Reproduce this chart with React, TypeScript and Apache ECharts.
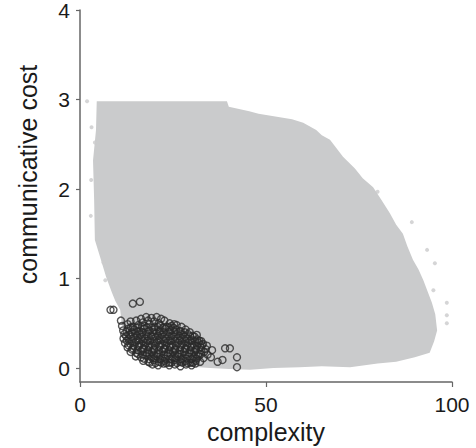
import React, { useEffect, useRef } from "react";
import * as echarts from "echarts";

// Tick values
const xTicks = [0, 50, 100];
const yTicks = [0, 1, 2, 3, 4];

// Boundary of the dense grey cloud of all possible systems [complexity, cost]
const cloudBoundary: [number, number][] = [
  [4.5, 2.98], [39.5, 2.98], [40, 2.92], [45.5, 2.87], [48, 2.84], [57, 2.78],
  [60, 2.74], [63.5, 2.66], [65, 2.6], [67.2, 2.55], [70.7, 2.36], [73.9, 2.23],
  [76, 2.12], [78.8, 2.02], [81, 1.88], [83.3, 1.73], [85, 1.6], [86.8, 1.5],
  [88, 1.36], [89.5, 1.21], [91, 1.1], [92.3, 0.98], [93.5, 0.85], [94.6, 0.73],
  [95.5, 0.6], [96, 0.42], [95.2, 0.3], [94, 0.17], [90, 0.12], [85, 0.07],
  [80, 0.05], [72.6, 0.01], [65, 0.02], [59, 0.01], [52, 0.0], [45.7, -0.02],
  [40, -0.01], [35, 0.0], [28, 0.02], [22, 0.05], [17, 0.1], [14, 0.2],
  [12, 0.35], [11.2, 0.5], [10.8, 0.65], [9.5, 0.75], [8.6, 0.84], [7, 1.02],
  [5.4, 1.24], [4.0, 1.43], [3.8, 1.88], [3.5, 2.32], [4.3, 2.66], [4.5, 2.98],
];

// Stray grey points along the cloud's edge
const cloudStray: [number, number][] = [
  [1.9, 2.98], [3.1, 2.69], [4.0, 2.52], [3.0, 2.1], [2.9, 1.7], [6.3, 1.18],
  [6.8, 0.98], [80, 1.97], [89.2, 1.63], [93.3, 1.32], [95.4, 1.17], [95, 0.87],
  [98.6, 0.73], [98.6, 0.59], [98.6, 0.5],
];

// Attested languages (open circles) — outer layer
const languagesOuter: [number, number][] = [
  [17.8, 0.57], [19.2, 0.56], [20.6, 0.57], [21.8, 0.55], [16.4, 0.55],
  [13.6, 0.52], [15.1, 0.53], [16.9, 0.51], [18.3, 0.53], [19.9, 0.52], [21.2, 0.5], [22.7, 0.53], [24.1, 0.5], [25.3, 0.49],
  [11.3, 0.47], [12.8, 0.49], [14.2, 0.46], [15.7, 0.48], [17.3, 0.47], [18.7, 0.49], [20.1, 0.46], [21.6, 0.48], [23.2, 0.46], [24.6, 0.47], [26.0, 0.48], [27.3, 0.46],
  [11.6, 0.42], [13.0, 0.44], [14.5, 0.43], [15.9, 0.41], [17.2, 0.44], [18.6, 0.42], [20.0, 0.43], [21.5, 0.41], [22.9, 0.44], [24.3, 0.42], [25.8, 0.43], [27.1, 0.41], [28.4, 0.43], [29.5, 0.4],
  [11.9, 0.38], [13.3, 0.37], [14.8, 0.39], [16.2, 0.37], [17.7, 0.38], [19.1, 0.36], [20.5, 0.39], [21.9, 0.37], [23.3, 0.38], [24.7, 0.36], [26.1, 0.38], [27.6, 0.37], [29.0, 0.38], [30.3, 0.36], [31.4, 0.37],
  [11.7, 0.33], [13.1, 0.32], [14.5, 0.34], [16.0, 0.32], [17.4, 0.33], [18.9, 0.31], [20.3, 0.34], [21.7, 0.32], [23.1, 0.33], [24.6, 0.31], [26.0, 0.33], [27.4, 0.32], [28.8, 0.33], [30.1, 0.31], [31.5, 0.32], [32.6, 0.3],
  [12.1, 0.28], [13.5, 0.27], [15.0, 0.29], [16.4, 0.27], [17.8, 0.28], [19.3, 0.26], [20.7, 0.29], [22.1, 0.27], [23.5, 0.28], [24.9, 0.26], [26.4, 0.28], [27.8, 0.27], [29.2, 0.28], [30.6, 0.26], [31.9, 0.28], [33.1, 0.27], [34.1, 0.25],
  [12.8, 0.23], [14.2, 0.22], [15.7, 0.24], [17.1, 0.22], [18.5, 0.23], [19.9, 0.21], [21.4, 0.24], [22.8, 0.22], [24.2, 0.23], [25.6, 0.21], [27.0, 0.23], [28.4, 0.22], [29.8, 0.23], [31.2, 0.21], [32.5, 0.23], [33.8, 0.21],
  [13.6, 0.18], [15.1, 0.17], [16.5, 0.19], [17.9, 0.17], [19.3, 0.18], [20.8, 0.16], [22.2, 0.19], [23.6, 0.17], [25.0, 0.18], [26.4, 0.16], [27.9, 0.18], [29.3, 0.17], [30.7, 0.18], [32.0, 0.16], [33.4, 0.18], [34.3, 0.15],
  [15.0, 0.13], [16.4, 0.12], [17.8, 0.14], [19.2, 0.12], [20.6, 0.13], [22.0, 0.11], [23.5, 0.14], [24.9, 0.12], [26.3, 0.13], [27.7, 0.11], [29.1, 0.13], [30.5, 0.12], [31.9, 0.13], [33.2, 0.11],
  [17.0, 0.08], [18.4, 0.07], [19.8, 0.09], [21.2, 0.07], [22.6, 0.08], [24.0, 0.06], [25.5, 0.09], [26.9, 0.07], [28.3, 0.08], [29.7, 0.06], [31.1, 0.08], [32.3, 0.07],
  [19.5, 0.04], [21.0, 0.03], [22.5, 0.05], [24.0, 0.03], [25.5, 0.04], [27.0, 0.02], [28.5, 0.04], [30.0, 0.03], [31.0, 0.05],
  [8.2, 0.65], [9.0, 0.65], [14.2, 0.72], [16.1, 0.74], [11.0, 0.53], [39.0, 0.22], [40.3, 0.22],
  [37.0, 0.07], [38.3, 0.09], [42.2, 0.12], [42.2, 0.01], [35.5, 0.2], [35.2, 0.12],
];

// Attested languages — dense core
const languagesCore: [number, number][] = [
  [13.7, 0.455], [15.2, 0.45], [16.6, 0.46], [18.0, 0.455], [19.4, 0.45], [20.9, 0.46], [22.3, 0.45], [23.8, 0.455], [25.1, 0.45],
  [12.5, 0.405], [13.9, 0.40], [15.4, 0.41], [16.8, 0.40], [18.3, 0.405], [19.7, 0.40], [21.2, 0.41], [22.5, 0.40], [24.0, 0.405], [25.4, 0.40], [26.8, 0.41], [28.1, 0.40],
  [12.4, 0.355], [13.8, 0.35], [15.3, 0.36], [16.7, 0.35], [18.2, 0.355], [19.6, 0.35], [21.0, 0.36], [22.5, 0.35], [23.9, 0.355], [25.3, 0.35], [26.8, 0.36], [28.2, 0.35], [29.6, 0.355], [30.8, 0.35],
  [12.6, 0.305], [14.0, 0.30], [15.5, 0.31], [16.9, 0.30], [18.3, 0.305], [19.8, 0.30], [21.2, 0.31], [22.6, 0.30], [24.1, 0.305], [25.5, 0.30], [26.9, 0.31], [28.3, 0.30], [29.7, 0.305], [31.0, 0.30], [32.1, 0.305],
  [13.0, 0.255], [14.4, 0.25], [15.9, 0.26], [17.3, 0.25], [18.7, 0.255], [20.1, 0.25], [21.6, 0.26], [23.0, 0.25], [24.4, 0.255], [25.8, 0.25], [27.3, 0.26], [28.7, 0.25], [30.1, 0.255], [31.5, 0.25], [32.8, 0.255],
  [14.0, 0.205], [15.5, 0.20], [16.9, 0.21], [18.3, 0.20], [19.8, 0.205], [21.2, 0.20], [22.6, 0.21], [24.0, 0.20], [25.5, 0.205], [26.9, 0.20], [28.3, 0.21], [29.7, 0.20], [31.1, 0.205], [32.6, 0.20],
  [15.6, 0.155], [17.0, 0.15], [18.5, 0.16], [19.9, 0.15], [21.3, 0.155], [22.7, 0.15], [24.2, 0.16], [25.6, 0.15], [27.0, 0.155], [28.4, 0.15], [29.9, 0.16], [31.2, 0.15], [32.5, 0.155],
  [17.2, 0.105], [18.6, 0.10], [20.0, 0.11], [21.5, 0.10], [22.9, 0.105], [24.3, 0.10], [25.7, 0.11], [27.2, 0.10], [28.6, 0.105], [30.0, 0.10], [31.3, 0.105],
  [18.8, 0.06], [20.3, 0.055], [21.8, 0.06], [23.2, 0.055], [24.6, 0.06], [26.1, 0.055], [27.5, 0.06], [28.9, 0.055], [30.3, 0.06],
];

const FONT = "'Liberation Sans', Arial, Helvetica, sans-serif";
const AXIS_COLOR = "#666666";
const GREY = "#cacbcc";
const CIRCLE = "#2b2b2b";

export default function App() {
  const ref = useRef<HTMLDivElement>(null);

  useEffect(() => {
    if (!ref.current) return;
    const chart = echarts.init(ref.current, undefined, { renderer: "svg" });
    const circleStyle = { color: "rgba(0,0,0,0)", borderColor: CIRCLE, borderWidth: 1.4 };
    chart.setOption({
      animation: false,
      backgroundColor: "#ffffff",
      textStyle: { fontFamily: FONT },
      grid: { left: 80, right: 24, top: 10, bottom: 66, outerBoundsMode: "none" },
      xAxis: {
        type: "value",
        min: xTicks[0],
        max: xTicks[xTicks.length - 1],
        interval: 50,
        name: "complexity",
        nameLocation: "middle",
        nameGap: 34,
        nameTextStyle: { fontSize: 25, color: "#1a1a1a", fontFamily: FONT },
        axisLine: { show: true, onZero: false, lineStyle: { color: AXIS_COLOR, width: 1.5 } },
        axisTick: { show: true, length: 5, lineStyle: { color: AXIS_COLOR, width: 1.2 } },
        axisLabel: { fontSize: 21, color: "#1a1a1a", margin: 12, fontFamily: FONT },
        splitLine: { show: false },
      },
      yAxis: {
        type: "value",
        min: -0.156,
        max: yTicks[yTicks.length - 1],
        axisLine: { show: true, onZero: false, lineStyle: { color: AXIS_COLOR, width: 1.5 } },
        axisTick: { show: true, length: 4, customValues: yTicks, lineStyle: { color: AXIS_COLOR, width: 1.2 } },
        axisLabel: { fontSize: 21, color: "#1a1a1a", margin: 10, customValues: yTicks, fontFamily: FONT },
        splitLine: { show: false },
      },
      graphic: [
        {
          type: "text",
          x: 28,
          y: 174.5,
          rotation: Math.PI / 2,
          style: {
            text: "communicative cost",
            fontSize: 25,
            fontFamily: FONT,
            fill: "#1a1a1a",
            align: "center",
            verticalAlign: "middle",
          },
        },
      ],
      series: [
        {
          type: "custom",
          silent: true,
          data: [cloudBoundary[0]],
          renderItem: (_params: any, api: any) => ({
            type: "polygon",
            shape: { points: cloudBoundary.map((p) => api.coord(p)) },
            style: { fill: GREY },
          }),
          z: 1,
        },
        {
          type: "scatter",
          silent: true,
          data: cloudStray,
          symbol: "circle",
          symbolSize: 4,
          itemStyle: { color: GREY },
          z: 2,
        },
        {
          type: "scatter",
          silent: true,
          data: languagesCore,
          symbol: "circle",
          symbolSize: 7,
          itemStyle: circleStyle,
          z: 3,
        },
        {
          type: "scatter",
          silent: true,
          data: languagesOuter,
          symbol: "circle",
          symbolSize: 7,
          itemStyle: circleStyle,
          z: 3,
        },
      ],
    });
    return () => chart.dispose();
  }, []);

  return (
    <div
      ref={ref}
      style={{ position: "fixed", left: 0, top: 0, width: 476, height: 448 }}
    />
  );
}
